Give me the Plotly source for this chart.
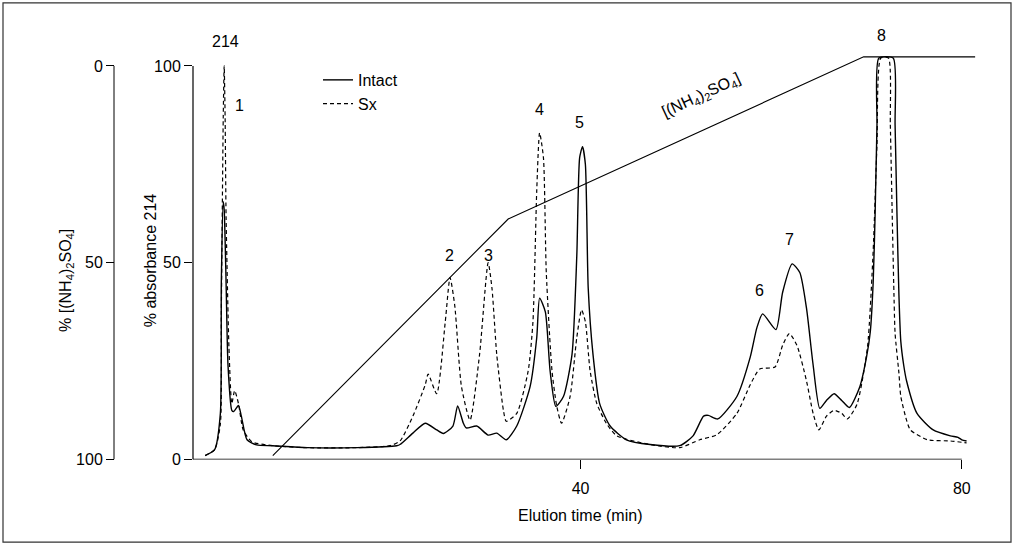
import plotly.graph_objects as go

# ---- data (time in min, % absorbance 214) ----
intact_t = [0.6, 1.6, 2.2, 2.3, 2.5, 2.6, 2.8, 3.0, 3.4, 3.6, 4.1, 4.4, 5.0, 6.0, 7.7, 11.3, 16.5, 20.7,
            21.05, 22.4, 23.7, 24.9, 25.6, 26.6, 27.1, 27.7, 28.0, 29.1, 30.3, 31.2, 32.2, 33.3, 34.7, 35.4,
            35.7, 36.3, 36.8, 37.4, 38.2, 39.1, 39.6, 39.9, 40.2, 40.5, 40.8, 41.3, 42.0, 43.1, 44.8, 47.3,
            50.4, 51.8, 52.9, 53.4, 54.4, 56.4, 57.8, 58.5, 59.1, 60.5, 61.2, 62.2, 63.0, 63.7, 64.4, 65.1,
            65.8, 66.6, 67.4, 68.2, 69.3, 70.0, 70.4, 70.7, 70.9, 71.1, 71.3, 72.8, 73.0, 73.2, 73.4, 73.6,
            73.9, 74.2, 75.3, 77.0, 78.8, 79.6, 80.0, 80.5]
intact_v = [1.0, 2.5, 11.7, 45, 65.5, 63.5, 45, 24, 12.5, 12.2, 13.7, 11, 5, 3.7, 3.5, 3.0, 3.0, 3.5,
            3.8, 6.7, 9.2, 7.5, 6.6, 8.5, 13.6, 9.2, 8.0, 8.5, 6.2, 6.7, 5.0, 8.5, 18.5, 31,
            41, 37.5, 22.5, 13.5, 16, 26.7, 51.7, 76.7, 79.5, 75, 43.5, 26.7, 14.2, 8.5, 5, 3.8,
            3.5, 6, 11, 11.2, 10.3, 16, 26, 33.5, 37, 33, 42.5, 49.7, 47.5, 38.5, 24, 13,
            15, 16.7, 15, 13.2, 18.5, 26, 32.5, 45, 62, 85, 102, 102, 85, 62, 42, 30,
            24, 20, 11.7, 7.5, 6, 5.6, 5.0, 4.7]

sx_t = [0.6, 1.6, 2.2, 2.3, 2.5, 2.6, 2.7, 2.8, 3.1, 3.4, 3.7, 4.1, 4.6, 5.5, 7.7, 11.3, 16.5, 20.0,
        21.05, 22.4, 23.7, 24.0, 24.9, 25.8, 26.3, 26.8, 27.5, 28.4, 29.4, 30.3, 30.7, 31.2, 31.9, 32.2,
        33.3, 34.5, 35.0, 35.4, 35.7, 36.1, 36.4, 37.0, 37.5, 38.0, 38.9, 39.6, 40.1, 40.5, 41.0, 41.7,
        42.7, 43.8, 47.3, 50.4, 52.5, 54.3, 56.4, 57.8, 58.8, 60.4, 61.2, 61.9, 62.7, 63.7, 64.4, 65.0,
        65.8, 66.6, 67.4, 68.0, 69.0, 70.1, 70.7, 71.1, 71.5, 72.3, 72.5, 72.7, 72.9, 73.0, 73.4, 73.6,
        74.2, 74.6, 76.4, 78.8, 80.5]
sx_v = [1.0, 2.5, 9, 36.7, 86.7, 100, 86.7, 61.7, 28.5, 14.2, 17.5, 14.2, 7.5, 4.5, 3.5, 3.0, 3.0, 3.5,
        4.7, 11, 19, 21.7, 16.7, 35, 46.2, 39, 18.5, 10, 26.7, 50, 43.5, 26.7, 12.5, 9.7,
        11.7, 22.5, 35, 68.5, 83, 76.7, 47.5, 22.5, 13.5, 9.2, 16, 31, 38, 35, 22.5, 14.2,
        9.2, 6, 3.8, 3.0, 5, 6.3, 11.7, 19, 23, 23.5, 29, 32, 29, 20, 11.7, 7.5,
        11, 12.5, 11.7, 10.3, 14, 28.5, 53, 80, 102, 102, 85, 62, 40, 32, 22, 16,
        10, 7.5, 5, 4.7, 4.2]

# ammonium sulfate gradient (% [(NH4)2SO4], axis reversed)
grad_t = [7.7, 32.4, 69.7, 81.4]
grad_pct = [99, 38.9, -2.3, -2.3]

x_ticks = [40, 80]
abs_ticks = [0, 50, 100]
amm_ticks = [0, 50, 100]

peak_labels = ["214", "1", "2", "3", "4", "5", "6", "7", "8"]
peak_t = [2.7, 4.25, 26.2, 30.3, 35.7, 39.9, 58.8, 61.9, 71.6]
peak_v = [106.25, 90, 51.75, 51.75, 89, 85.5, 43, 56, 107.75]

# ---- layout geometry ----
W, H = 1018, 558
X0PX, SX = 199.4, 9.53      # px of t=0, px per minute
Y0PX, SY = 467.0, 4.0       # px of v=0, px per unit
PL, PR, PT, PB = 193, 1000, 30, 467
xr = [(PL - X0PX) / SX, (PR - X0PX) / SX]
yr = [(Y0PX - PB) / SY, (Y0PX - PT) / SY]
y2r = [100 + (PB - Y0PX) / SY, (PT - 67) / SY]  # reversed: 0 at top tick

FONT = "Liberation Sans, Arial, Helvetica, sans-serif"
FS = 16

fig = go.Figure()
fig.add_trace(go.Scatter(x=intact_t, y=intact_v, mode="lines", name="Intact",
                         line=dict(color="black", width=1.4, shape="spline", smoothing=0.6)))
fig.add_trace(go.Scatter(x=sx_t, y=sx_v, mode="lines", name="Sx",
                         line=dict(color="black", width=1.2, dash="4px,3px", shape="spline", smoothing=0.6)))
fig.add_trace(go.Scatter(x=grad_t, y=grad_pct, mode="lines", yaxis="y2", showlegend=False,
                         line=dict(color="black", width=1.1)))

axis_common = dict(showgrid=False, zeroline=False, showline=False, ticks="outside",
                   tickcolor="black", tickwidth=1, tickfont=dict(family=FONT, size=FS, color="black"))

fig.update_layout(
    width=W, height=H, margin=dict(l=0, r=0, t=0, b=0),
    paper_bgcolor="white", plot_bgcolor="white",
    font=dict(family=FONT, size=FS, color="black"),
    xaxis=dict(domain=[PL / W, PR / W], range=xr, tickvals=x_ticks, ticklen=9,
               ticklabelstandoff=5, **axis_common),
    yaxis=dict(domain=[1 - PB / H, 1 - PT / H], range=yr, tickvals=abs_ticks, ticklen=8, **axis_common),
    yaxis2=dict(overlaying="y", anchor="free", position=114 / W, side="left", range=y2r,
                tickvals=amm_ticks, ticklen=8, **axis_common),
    legend=dict(x=318 / W, y=1 - 64 / H, xanchor="left", yanchor="top", bgcolor="rgba(0,0,0,0)",
                font=dict(family=FONT, size=FS), tracegroupgap=0, itemwidth=30),
    showlegend=True,
)

shapes = [
    dict(type="line", xref="x", yref="y", x0=xr[0], x1=80, y0=0, y1=0, line=dict(color="black", width=1.2)),
    dict(type="line", xref="paper", yref="y", x0=PL / W, x1=PL / W, y0=0, y1=100, line=dict(color="black", width=1.2)),
    dict(type="line", xref="paper", yref="y2", x0=114 / W, x1=114 / W, y0=0, y1=100, line=dict(color="black", width=1)),
    dict(type="rect", xref="paper", yref="paper", x0=3 / W, x1=1011 / W, y0=1 - 551 / H, y1=1 - 3 / H,
         line=dict(color="#333", width=1.2)),
]
fig.update_layout(shapes=shapes)

ann = []
for lab, t, v in zip(peak_labels, peak_t, peak_v):
    ann.append(dict(x=t, y=v, xref="x", yref="y", text=lab, showarrow=False,
                    font=dict(family=FONT, size=FS, color="black")))
ann.append(dict(x=52.7, y=92.5, xref="x", yref="y", text="[(NH<sub>4</sub>)<sub>2</sub>SO<sub>4</sub>]",
                showarrow=False, textangle=-25, font=dict(family=FONT, size=FS, color="black")))
ann.append(dict(x=580 / W, y=1 - 535 / H, xref="paper", yref="paper", text="Elution time (min)",
                showarrow=False, font=dict(family=FONT, size=FS, color="black")))
ann.append(dict(x=55 / W, y=1 - 285 / H, xref="paper", yref="paper",
                text="% [(NH<sub>4</sub>)<sub>2</sub>SO<sub>4</sub>]", textangle=-90,
                showarrow=False, font=dict(family=FONT, size=FS, color="black")))
ann.append(dict(x=140 / W, y=1 - 265 / H, xref="paper", yref="paper", text="% absorbance 214",
                textangle=-90, showarrow=False, font=dict(family=FONT, size=FS, color="black")))
fig.update_layout(annotations=ann)

fig.write_html("out.html")
